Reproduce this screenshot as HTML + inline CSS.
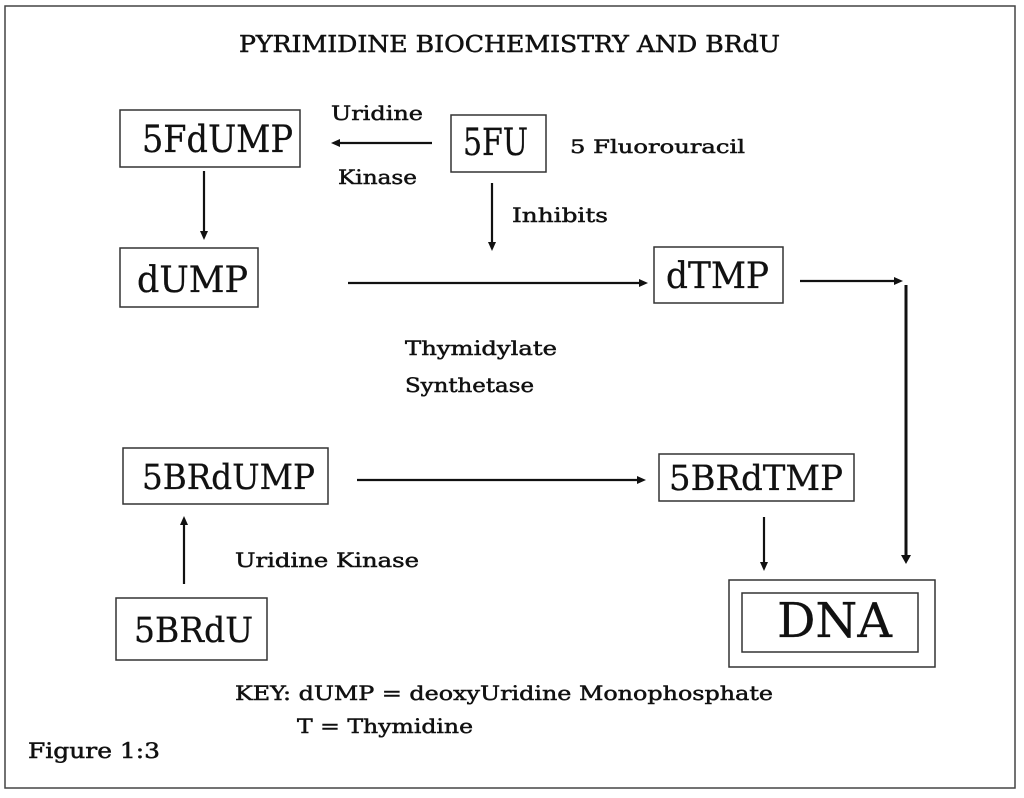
<!DOCTYPE html>
<html>
<head>
<meta charset="utf-8">
<style>
html,body{margin:0;padding:0;background:#fff;}
svg{display:block;}
text{font-family:"DejaVu Serif","Liberation Serif",serif;fill:#111;}
.s{stroke:#111;stroke-width:0.5;}
.b{stroke:#111;stroke-width:0.3;}
</style>
</head>
<body>
<svg width="1024" height="798" viewBox="0 0 1024 798" xmlns="http://www.w3.org/2000/svg">
<rect x="0" y="0" width="1024" height="798" fill="#fff"/>
<!-- outer border -->
<rect x="5" y="6" width="1010" height="782" fill="none" stroke="#444" stroke-width="1.5"/>

<!-- title -->
<text class="s" x="239" y="52" font-size="23" textLength="541" lengthAdjust="spacingAndGlyphs">PYRIMIDINE BIOCHEMISTRY AND BRdU</text>

<!-- boxes -->
<g fill="none" stroke="#333" stroke-width="1.5">
<rect x="120" y="110" width="180" height="57"/>
<rect x="451" y="115" width="95" height="57"/>
<rect x="120" y="248" width="138" height="59"/>
<rect x="654" y="247" width="129" height="56"/>
<rect x="123" y="448" width="205" height="56"/>
<rect x="659" y="454" width="195" height="47"/>
<rect x="116" y="598" width="151" height="62"/>
<rect x="729" y="580" width="206" height="87"/>
<rect x="742" y="593" width="176" height="59"/>
</g>

<!-- node labels -->
<text class="b" x="142" y="152" font-size="37" textLength="151" lengthAdjust="spacingAndGlyphs">5FdUMP</text>
<text class="b" x="463" y="155" font-size="37" textLength="65" lengthAdjust="spacingAndGlyphs">5FU</text>
<text class="b" x="137" y="292" font-size="36" textLength="111" lengthAdjust="spacingAndGlyphs">dUMP</text>
<text class="b" x="666" y="288" font-size="36" textLength="103" lengthAdjust="spacingAndGlyphs">dTMP</text>
<text class="b" x="142" y="489" font-size="35" textLength="173" lengthAdjust="spacingAndGlyphs">5BRdUMP</text>
<text class="b" x="669" y="490" font-size="35" textLength="174" lengthAdjust="spacingAndGlyphs">5BRdTMP</text>
<text class="b" x="134" y="642" font-size="35" textLength="119" lengthAdjust="spacingAndGlyphs">5BRdU</text>
<text class="b" x="777" y="637" font-size="48" textLength="115" lengthAdjust="spacingAndGlyphs">DNA</text>

<!-- small labels -->
<text class="s" x="331" y="120" font-size="20" textLength="92" lengthAdjust="spacingAndGlyphs">Uridine</text>
<text class="s" x="338" y="184" font-size="20" textLength="79" lengthAdjust="spacingAndGlyphs">Kinase</text>
<text class="s" x="570" y="153" font-size="19" textLength="175" lengthAdjust="spacingAndGlyphs">5 Fluorouracil</text>
<text class="s" x="512" y="222" font-size="20" textLength="96" lengthAdjust="spacingAndGlyphs">Inhibits</text>
<text class="s" x="405" y="355" font-size="20" textLength="152" lengthAdjust="spacingAndGlyphs">Thymidylate</text>
<text class="s" x="405" y="392" font-size="20" textLength="129" lengthAdjust="spacingAndGlyphs">Synthetase</text>
<text class="s" x="235" y="567" font-size="20" textLength="184" lengthAdjust="spacingAndGlyphs">Uridine Kinase</text>
<text class="s" x="235" y="700" font-size="20" textLength="538" lengthAdjust="spacingAndGlyphs">KEY: dUMP = deoxyUridine Monophosphate</text>
<text class="s" x="297" y="733" font-size="20" textLength="176" lengthAdjust="spacingAndGlyphs">T = Thymidine</text>
<text class="s" x="28" y="758" font-size="21" textLength="132" lengthAdjust="spacingAndGlyphs">Figure 1:3</text>

<!-- connectors -->
<g stroke="#111" stroke-width="2.2" fill="none">
<line x1="432" y1="143" x2="338" y2="143"/>
<line x1="204" y1="171" x2="204" y2="233"/>
<line x1="492" y1="183" x2="492" y2="244"/>
<line x1="348" y1="283" x2="641" y2="283"/>
<line x1="800" y1="281" x2="896" y2="281"/>
<line x1="906" y1="285" x2="906" y2="557" stroke-width="3"/>
<line x1="357" y1="480" x2="639" y2="480"/>
<line x1="764" y1="517" x2="764" y2="564"/>
<line x1="184" y1="523" x2="184" y2="584"/>
</g>
<g fill="#111">
<polygon points="331,143 340,139 340,147"/>
<polygon points="204,240 200,231 208,231"/>
<polygon points="492,251 488,242 496,242"/>
<polygon points="648,283 639,279 639,287"/>
<polygon points="903,281 894,277 894,285"/>
<polygon points="906,564 901,555 911,555"/>
<polygon points="646,480 637,476 637,484"/>
<polygon points="764,571 760,562 768,562"/>
<polygon points="184,516 180,525 188,525"/>
</g>
</svg>
</body>
</html>
